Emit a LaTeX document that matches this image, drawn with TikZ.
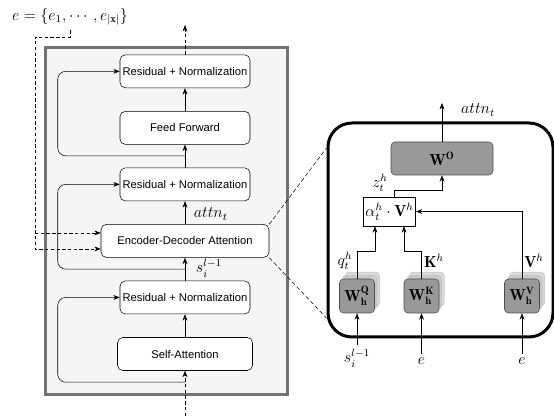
\documentclass[tikz,border=0pt]{standalone}
\usepackage{amsmath,amssymb}
\usepackage{fontspec}
\newfontfamily\boxfont{Liberation Sans}
\usepackage{xcolor}
\usepackage{tikz}
\usetikzlibrary{arrows.meta}
\usetikzlibrary{chains}
\usetikzlibrary{positioning}
\usetikzlibrary{shadows}

\begin{document}
\begin{tikzpicture}[
        x=0.75pt, y=-0.75pt,
        font=\fontsize{12}{14}\selectfont,
        node distance=17.25pt,
        block/.style={
            draw, rounded corners=4pt, fill=white, on chain=dec, join,
            font=\boxfont\fontsize{8.4}{10}\selectfont,
            minimum width=97.5pt, minimum height=24.75pt, inner xsep=1.5pt
        },
        skip/.style={-Stealth, rounded corners=6pt},
        feed/.style={dash pattern=on 2.5pt off 1.8pt},
        tag/.style={inner sep=0.5pt},
        weight/.style={
            draw=black!70, fill=black!40, rounded corners=3pt,
            minimum width=26.25pt, minimum height=25.5pt, inner sep=0pt
        },
        proj/.style={
            weight,
            double copy shadow={shadow xshift=2pt, shadow yshift=2.6pt,
                opacity=.6, fill=black!25, draw=black!30}
        },
        ]
        \useasboundingbox (0,0) rectangle (554,416);

        % decoder layer
        \draw[line width=2.25pt, draw=black!55, fill=black!4] (45,48) rectangle (287,395);
        \begin{scope}[start chain=dec going above, shift={(185,354)},
                every join/.style={-Stealth}]
            \node[block, minimum width=101.25pt] (sa) {Self-Attention};
            \node[block] (rn3) {Residual + Normalization};
            \node[block, minimum width=126pt] (ed) {Encoder-Decoder Attention};
            \node[block] (rn2) {Residual + Normalization};
            \node[block] (ff) {Feed Forward};
            \node[block] (rn1) {Residual + Normalization};
        \end{scope}

        \draw[skip] ([yshift=-8.6pt]sa.south) -| ([xshift=-46.5pt]rn3.west) -- (rn3.west);
        \draw[skip] ([yshift=-8.6pt]ed.south) -| ([xshift=-46.5pt]rn2.west) -- (rn2.west);
        \draw[skip] ([yshift=-8.4pt]ff.south) -| ([xshift=-46.5pt]rn1.west) -- (rn1.west);

        \coordinate (decin) at (185,416);
        \coordinate (decout) at (185,25);
        \draw[feed, -Stealth] (decin) -- (sa.south);
        \draw[feed, -Stealth] (rn1.north) -- (decout);

        \node[tag, anchor=west] (attnlab) at (193,214) {$attn_t$};
        \node[tag, anchor=west] (slab) at (195,268) {$s_i^{l-1}$};

        % encoder output
        \node (eset) at (70,17) {$e=\{e_1,\cdots,e_{|\mathbf{x}|}\}$};
        \coordinate (ebus) at (35,37);
        \coordinate (edhi) at ([yshift=6pt]ed.west);
        \draw[feed, -Stealth] (eset.south) |- (ebus) |- ([yshift=-6pt]ed.west);
        \draw[feed, -Stealth] (ebus |- edhi) -- (edhi);

        % attention head
        \node[draw, line width=2.25pt, rounded corners=18pt,
            minimum width=168.75pt, minimum height=160.5pt] (head) at (440.5,230) {};
        \draw[densely dashed, thin] (ed.north east) -- ([yshift=61.5pt]head.west);
        \draw[densely dashed, thin] (ed.south east) -- ([yshift=-66pt]head.west);

        \node[weight, minimum width=76.5pt, minimum height=24.75pt] (wo) at (442,158.5) {$\mathbf{W}^{\mathbf{O}}$};
        \node[draw, fill=white, inner sep=1.5pt, minimum height=21.75pt] (alpha) at (389.5,211.5) {$\alpha_t^h\cdot\mathbf{V}^h$};
        \node[proj] (wq) at (357,296) {$\mathbf{W}_{\mathbf{h}}^{\mathbf{Q}}$};
        \node[proj] (wk) at (421.5,296) {$\mathbf{W}_{\mathbf{h}}^{\mathbf{K}}$};
        \node[proj] (wv) at (522,296) {$\mathbf{W}_{\mathbf{h}}^{\mathbf{V}}$};

        \draw[-Stealth] (wq.north) -- ++(0,-27) -| ([xshift=-10.9pt]alpha.south);
        \draw[-Stealth] (wk.north) -- ++(0,-27) -| ([xshift=10.9pt]alpha.south);
        \draw[-Stealth] (wv.north) |- (alpha.east);
        \draw[-Stealth] ([xshift=3.4pt]alpha.north) -- ++(0,-6) -| (wo.south);
        \coordinate (headout) at (442,103);
        \draw[-Stealth] (wo.north) -- (headout);

        \node[tag] (qlab) at (345,261) {$q_t^h$};
        \node[tag] (klab) at (434,261) {$\mathbf{K}^h$};
        \node[tag] (vlab) at (534,261) {$\mathbf{V}^h$};
        \node[tag] (zlab) at (380,183) {$z_t^h$};
        \node[tag] (outlab) at (478,110) {$attn_t$};

        \node[tag] (sin) at (357,358) {$s_i^{l-1}$};
        \node[tag] (ein) at (421.5,361) {$e$};
        \node[tag] (ein2) at (522,361) {$e$};
        \draw[-Stealth] ([yshift=2pt]sin.north) -- (wq);
        \draw[-Stealth] ([yshift=2pt]ein.north) -- (wk);
        \draw[-Stealth] ([yshift=2pt]ein2.north) -- (wv);
    \end{tikzpicture}
\end{document}
